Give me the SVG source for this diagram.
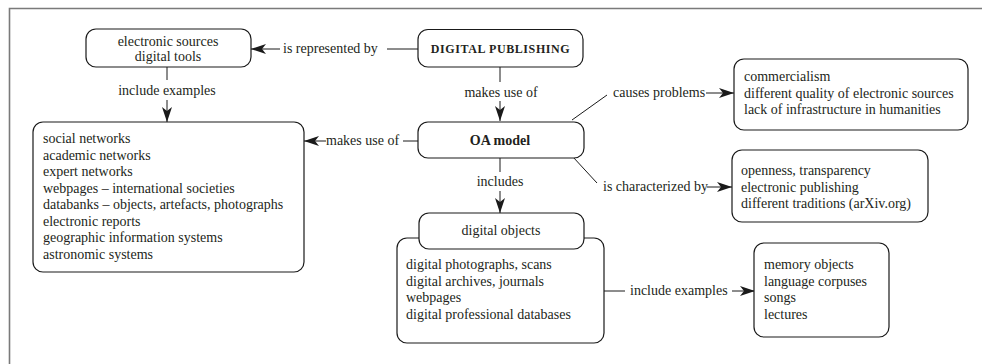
<svg xmlns="http://www.w3.org/2000/svg" width="982" height="364" viewBox="0 0 982 364">
<defs>
<marker id="arr" markerUnits="userSpaceOnUse" markerWidth="16" markerHeight="11" refX="15" refY="5.5" orient="auto">
<path d="M0,0.5 L15,5.5 L0,10.5 L4,5.5 Z" fill="#1a1a1a"/>
</marker>
<style>
.frame{stroke:#7a7a7a;stroke-width:1.6;fill:none}
.box{fill:#fff;stroke:#1a1a1a;stroke-width:1.2}
.ln{fill:none;stroke:#1a1a1a;stroke-width:1}
.t{font-family:"Liberation Serif","Times New Roman",serif;font-size:14px;fill:#231f20}
.c{text-anchor:middle}
.b{font-weight:bold}
.sc{font-size:12px;font-weight:bold;letter-spacing:0.6px}
</style>
</defs>
<rect width="982" height="364" fill="#fff"/>
<path class="frame" d="M9.5,364 V8.5 H982"/>

<g id="connectors">
<path class="ln" d="M418,49 H387"/>
<path class="ln" d="M280,49 H251" marker-end="url(#arr)"/>
<text class="t" x="283" y="53">is represented by</text>

<path class="ln" d="M167,67 V80"/>
<path class="ln" d="M167,100 V122" marker-end="url(#arr)"/>
<text class="t c" x="167" y="95">include examples</text>

<path class="ln" d="M500,67 V82"/>
<path class="ln" d="M500,101 V121" marker-end="url(#arr)"/>
<text class="t c" x="501" y="97">makes use of</text>

<path class="ln" d="M418,141 H403"/>
<path class="ln" d="M326,141 H304" marker-end="url(#arr)"/>
<text class="t" x="326" y="145">makes use of</text>

<path class="ln" d="M500,158 V172"/>
<path class="ln" d="M500,191 V213" marker-end="url(#arr)"/>
<text class="t c" x="500" y="186">includes</text>

<path class="ln" d="M572,120 L607,95"/>
<text class="t" x="613" y="97">causes problems</text>
<path class="ln" d="M706,93 H734" marker-end="url(#arr)"/>

<path class="ln" d="M573,157 L597,183"/>
<text class="t" x="603" y="191">is characterized by</text>
<path class="ln" d="M707,187 H732" marker-end="url(#arr)"/>

<path class="ln" d="M604,291 H625"/>
<text class="t" x="630" y="295">include examples</text>
<path class="ln" d="M732,291 H755" marker-end="url(#arr)"/>
</g>

<g id="electronic-sources">
<rect class="box" x="86" y="29" width="165" height="38" rx="10"/>
<text class="t c" x="168" y="46">electronic sources</text>
<text class="t c" x="168" y="61">digital tools</text>
</g>

<g id="digital-publishing">
<rect class="box" x="418" y="29.5" width="165" height="37.5" rx="10"/>
<text class="t c sc" x="500.5" y="52.5">DIGITAL PUBLISHING</text>
</g>

<g id="oa-model">
<rect class="box" x="418" y="122" width="166" height="36" rx="10"/>
<text class="t c b" x="500" y="145">OA model</text>
</g>

<g id="tools-list">
<rect class="box" x="33" y="122" width="271" height="150" rx="10"/>
<text class="t" x="43" y="143">social networks</text>
<text class="t" x="43" y="159.5">academic networks</text>
<text class="t" x="43" y="176">expert networks</text>
<text class="t" x="43" y="192.5">webpages – international societies</text>
<text class="t" x="43" y="209">databanks – objects, artefacts, photographs</text>
<text class="t" x="43" y="225.5">electronic reports</text>
<text class="t" x="43" y="242">geographic information systems</text>
<text class="t" x="43" y="258.5">astronomic systems</text>
</g>

<g id="problems">
<rect class="box" x="734" y="59" width="234" height="71" rx="10"/>
<text class="t" x="744" y="81">commercialism</text>
<text class="t" x="744" y="97.5">different quality of electronic sources</text>
<text class="t" x="744" y="114">lack of infrastructure in humanities</text>
</g>

<g id="characteristics">
<rect class="box" x="732" y="150" width="196" height="72" rx="10"/>
<text class="t" x="741" y="175">openness, transparency</text>
<text class="t" x="741" y="191.5">electronic publishing</text>
<text class="t" x="741" y="208">different traditions (arXiv.org)</text>
</g>

<g id="digital-objects-list">
<rect class="box" x="397" y="238" width="207" height="105" rx="10"/>
<text class="t" x="406" y="269">digital photographs, scans</text>
<text class="t" x="406" y="285.5">digital archives, journals</text>
<text class="t" x="406" y="302">webpages</text>
<text class="t" x="406" y="318.5">digital professional databases</text>
</g>

<g id="digital-objects">
<rect class="box" x="419" y="213" width="165" height="36" rx="10"/>
<text class="t c" x="501" y="235">digital objects</text>
</g>

<g id="examples">
<rect class="box" x="754" y="243" width="135" height="94" rx="10"/>
<text class="t" x="764" y="269">memory objects</text>
<text class="t" x="764" y="285.5">language corpuses</text>
<text class="t" x="764" y="302">songs</text>
<text class="t" x="764" y="318.5">lectures</text>
</g>
</svg>
